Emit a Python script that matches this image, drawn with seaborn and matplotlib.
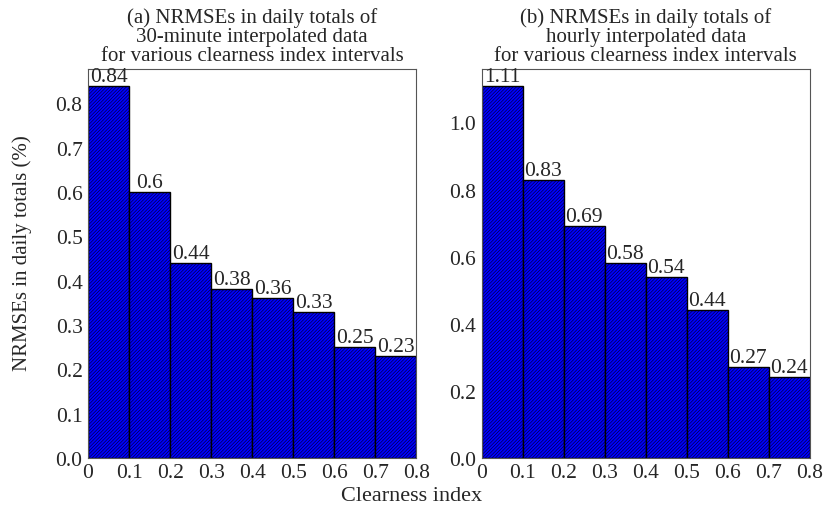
import numpy as np
import pandas as pd
import matplotlib
matplotlib.use("Agg")
import matplotlib.pyplot as plt
import seaborn as sns

# Datos
bin_edges = [0, 0.1, 0.2, 0.3, 0.4, 0.5, 0.6, 0.7, 0.8]
nrmse_30min = [0.84, 0.60, 0.44, 0.38, 0.36, 0.33, 0.25, 0.23]
nrmse_hourly = [1.11, 0.83, 0.69, 0.58, 0.54, 0.44, 0.27, 0.24]
labels_30min = ["0.84", "0.6", "0.44", "0.38", "0.36", "0.33", "0.25", "0.23"]
labels_hourly = ["1.11", "0.83", "0.69", "0.58", "0.54", "0.44", "0.27", "0.24"]
xtick_labels = ["0", "0.1", "0.2", "0.3", "0.4", "0.5", "0.6", "0.7", "0.8"]
titles = [
    "(a) NRMSEs in daily totals of\n30-minute interpolated data\nfor various clearness index intervals",
    "(b) NRMSEs in daily totals of\nhourly interpolated data\nfor various clearness index intervals",
]

sns.set_style("white")
plt.rcParams["font.family"] = ["Liberation Serif", "DejaVu Serif"]
plt.rcParams["hatch.linewidth"] = 0.35
plt.rcParams["hatch.color"] = "#00006a"
plt.rcParams["axes.edgecolor"] = "#555555"

fig, axes = plt.subplots(1, 2, figsize=(8.23, 5.06), dpi=100)
fig.subplots_adjust(left=0.107, right=0.984, bottom=0.093, top=0.862, wspace=0.2)

series = [(nrmse_30min, labels_30min, np.arange(0, 0.81, 0.1)),
          (nrmse_hourly, labels_hourly, np.arange(0, 1.01, 0.2))]

for ax, (vals, labs, yticks), title in zip(axes, series, titles):
    centers = [(a + b) / 2 for a, b in zip(bin_edges[:-1], bin_edges[1:])]
    df = pd.DataFrame({"kt": centers, "nrmse": vals})
    sns.histplot(data=df, x="kt", weights="nrmse", bins=bin_edges, ax=ax,
                 color="blue", edgecolor="black", linewidth=1.0, alpha=1.0,
                 hatch="//////////")
    for p, lab in zip(ax.patches, labs):
        ax.text(p.get_x() + p.get_width() / 2, p.get_height(), lab,
                ha="center", va="bottom", fontsize=15.5)
    ax.set_xlim(0, 0.8)
    ax.set_ylim(0, max(vals) * 1.045)
    ax.set_xticks(bin_edges)
    ax.set_xticklabels(xtick_labels)
    ax.set_yticks(yticks)
    ax.set_yticklabels([f"{t:.1f}" for t in yticks])
    ax.tick_params(axis="both", labelsize=15.5, length=3, width=0.8,
                   color="#555555", pad=1)
    ax.set_xlabel("")
    ax.set_ylabel("")
    ax.set_title(title, fontsize=15, pad=6, linespacing=1.02)

fig.supylabel("NRMSEs in daily totals (%)", fontsize=15, x=0.015)
fig.supxlabel("Clearness index", fontsize=16, y=0.0)

plt.savefig("out.png", dpi=100)
